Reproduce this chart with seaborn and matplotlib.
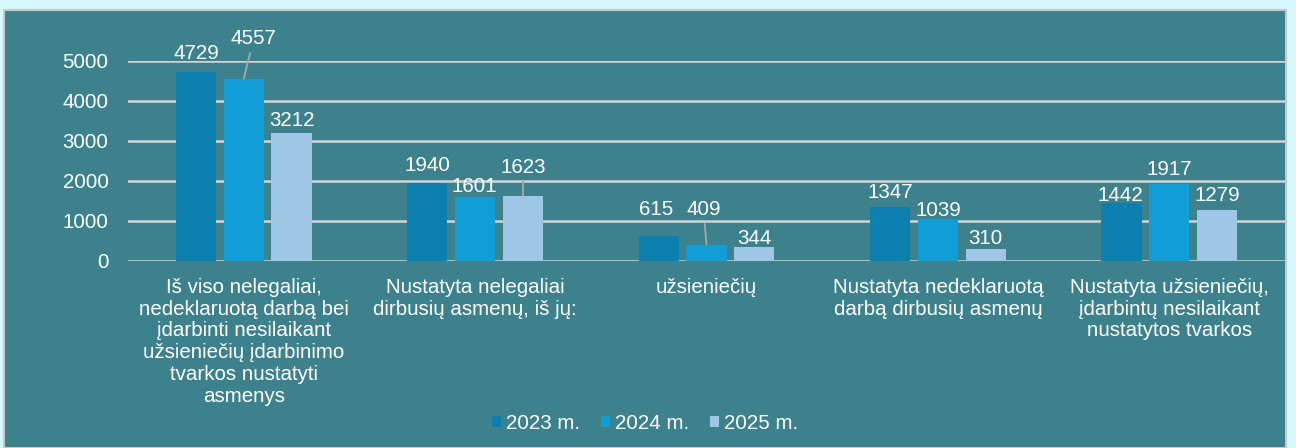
import pandas as pd
import matplotlib.pyplot as plt
import seaborn as sns
from matplotlib.patches import Rectangle, Patch

# data
categories = [
    "Iš viso nelegaliai,\nnedeklaruotą darbą bei\nįdarbinti nesilaikant\nužsieniečių įdarbinimo\ntvarkos nustatyti\nasmenys",
    "Nustatyta nelegaliai\ndirbusių asmenų, iš jų:",
    "užsieniečių",
    "Nustatyta nedeklaruotą\ndarbą dirbusių asmenų",
    "Nustatyta užsieniečių,\nįdarbintų nesilaikant\nnustatytos tvarkos",
]
years = ["2023 m.", "2024 m.", "2025 m."]
v2023 = [4729, 1940, 615, 1347, 1442]
v2024 = [4557, 1601, 409, 1039, 1917]
v2025 = [3212, 1623, 344, 310, 1279]

colors = ["#0b80ae", "#119ed6", "#a0c6e6"]
teal = "#3d818d"
cyan = "#d7f8fc"
grid = "#d4d4d4"

# label placement (pixels above bar top, x shift, leader line?) per year / category
label_dy = [[18, 18, 27, 15, 8], [40, 10, 35, 9, 15], [12, 29, 9, 10, 14]]
label_dx = [[0, 0, -3, 0, -1], [10, -1, -3, 0, 0], [0, 0, 0, 0, 0]]
leaders = [[False] * 5, [True, False, True, False, False], [False, True, False, False, False]]

df = pd.DataFrame({
    "cat": categories * 3,
    "year": [y for y in years for _ in categories],
    "value": v2023 + v2024 + v2025,
})

sns.set_theme(style="white")
plt.rcParams["font.family"] = ["Liberation Sans", "DejaVu Sans"]
fs = 14.8

fig = plt.figure(figsize=(12.96, 4.48), dpi=100)
fig.patch.set_facecolor(cyan)
fig.patches.append(Rectangle((4 / 1296, 0), 1282 / 1296, 438 / 448, transform=fig.transFigure,
                             facecolor=teal, edgecolor="#c8c8c8", lw=1.5, zorder=-5))

ax = fig.add_axes([128 / 1296, (448 - 261) / 448, 1157 / 1296, 200 / 448])
ax.set_facecolor("none")
sns.barplot(data=df, x="cat", y="value", hue="year", hue_order=years, palette=colors,
            width=0.62, gap=0.16, saturation=1, linewidth=0, legend=False, ax=ax, zorder=3)

ax.set_ylim(0, 5000)
ax.set_xlim(-0.5, 4.5)
ax.set_yticks(range(0, 5001, 1000))
ax.yaxis.grid(True, color=grid, lw=1.8, zorder=0)
ax.set_axisbelow(True)
for s in ax.spines.values():
    s.set_visible(False)
ax.tick_params(axis="both", length=0, colors="white", labelsize=fs)
ax.tick_params(axis="y", pad=14)
ax.tick_params(axis="x", pad=12)
ax.set_xticks(range(len(categories)))
ax.set_xticklabels(categories, linespacing=1.19, ha="center", va="top")
ax.set_xlabel("")
ax.set_ylabel("")

for i, cont in enumerate(ax.containers):
    for j, bar in enumerate(cont):
        x = bar.get_x() + bar.get_width() / 2
        h = bar.get_height()
        arrow = dict(arrowstyle="-", color="#a8a8a8", lw=1.3, shrinkA=1, shrinkB=0) if leaders[i][j] else None
        ax.annotate(f"{int(h)}", xy=(x, h), xytext=(label_dx[i][j], label_dy[i][j]),
                    textcoords="offset pixels", ha="center", va="center",
                    color="white", fontsize=fs, arrowprops=arrow, annotation_clip=False, zorder=5)

handles = [Patch(facecolor=c, edgecolor="none") for c in colors]
fig.legend(handles, years, loc="center", bbox_to_anchor=(645 / 1296, (448 - 423) / 448),
           ncol=3, frameon=False, fontsize=fs, labelcolor="white",
           handlelength=0.45, handleheight=0.45, handletextpad=0.25, columnspacing=1.0)

fig.savefig("out.png", dpi=100, facecolor=cyan)
